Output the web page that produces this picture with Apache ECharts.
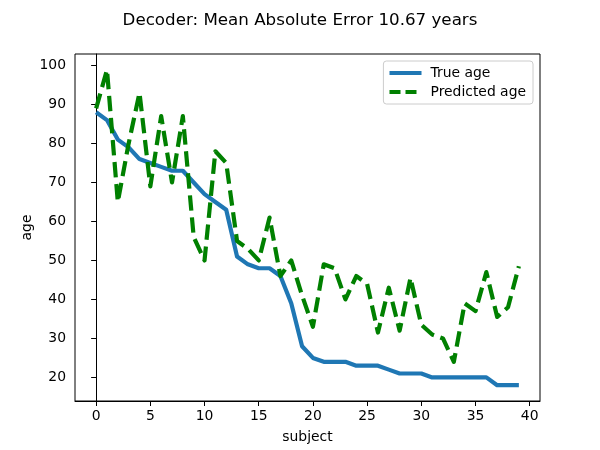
<!DOCTYPE html>
<html>
<head>
<meta charset="utf-8">
<script src="https://cdn.jsdelivr.net/npm/echarts@6/dist/echarts.min.js"></script>
<style>html,body{margin:0;padding:0;background:#fff}#c{width:600px;height:450px}</style>
</head>
<body>
<div id="c"></div>
<script>
const subjects = [0,1,2,3,4,5,6,7,8,9,10,11,12,13,14,15,16,17,18,19,20,21,22,23,24,25,26,27,28,29,30,31,32,33,34,35,36,37,38,39];
const trueAge = [88,86,81,79,76,75,74,73,73,70,67,65,63,51,49,48,48,46,39,28,25,24,24,24,23,23,23,22,21,21,21,20,20,20,20,20,20,18,18,18];
const predAge = [89,98.9,65,80,93,69,87,70,87,56,50,78,75,55,53,50,61,46,50,41,33,49,48,40,46,44,31.5,43,32,45.5,33.5,31,30,24,39,37,47,35.5,38,48.5];
const xTicks = [0,5,10,15,20,25,30,35,40];
const yTicks = [20,30,40,50,60,70,80,90,100];

const font = 'DejaVu Sans';
const chart = echarts.init(document.getElementById('c'), null, {renderer:'canvas'});
chart.setOption({
  animation: false,
  backgroundColor: '#fff',
  title: {
    text: 'Decoder: Mean Absolute Error 10.67 years',
    left: 'center', top: 7,
    textStyle: {fontFamily: font, fontSize: 16.7, fontWeight: 'normal', color: '#000'}
  },
  legend: {
    orient: 'vertical', right: 67, top: 61,
    padding: [5, 7, 5, 4], itemGap: 5, itemWidth: 32, itemHeight: 14,
    borderColor: '#cccccc', borderWidth: 1, borderRadius: 3,
    backgroundColor: 'rgba(255,255,255,0.8)',
    textStyle: {fontFamily: font, fontSize: 13.9, color: '#000', padding: [0,0,0,4]},
    data: [
      {name: 'True age', itemStyle: {opacity: 0}, lineStyle: {width: 4.2, color: '#1f77b4', type: 'solid'}},
      {name: 'Predicted age', itemStyle: {opacity: 0}, lineStyle: {width: 4.2, color: '#008000', type: [11, 5]}}
    ]
  },
  grid: {left: 75, right: 60, top: 54, bottom: 49, show: true, borderColor: '#000', borderWidth: 1, backgroundColor: 'transparent'},
  xAxis: {
    type: 'value', min: -1.95, max: 40.95,
    name: 'subject', nameLocation: 'middle', nameGap: 29, nameMoveOverlap: false,
    nameTextStyle: {fontFamily: font, fontSize: 13.9, color: '#000'},
    axisLine: {show: true, lineStyle: {color: '#000', width: 1}},
    axisTick: {show: true, length: 5, lineStyle: {color: '#000', width: 1}, customValues: xTicks},
    axisLabel: {fontFamily: font, fontSize: 13.9, color: '#000', margin: 8, customValues: xTicks},
    splitLine: {show: false}
  },
  yAxis: {
    type: 'value', min: 13.95, max: 102.95,
    name: 'age', nameLocation: 'middle', nameGap: 41, nameMoveOverlap: false,
    nameTextStyle: {fontFamily: font, fontSize: 13.9, color: '#000'},
    axisLine: {show: true, lineStyle: {color: '#000', width: 1}},
    axisTick: {show: true, length: 5, lineStyle: {color: '#000', width: 1}, customValues: yTicks},
    axisLabel: {fontFamily: font, fontSize: 13.9, color: '#000', margin: 9, customValues: yTicks},
    splitLine: {show: false}
  },
  series: [
    {
      name: 'True age', type: 'line', symbol: 'none', color: '#1f77b4',
      lineStyle: {width: 4.2, color: '#1f77b4', cap: 'butt', join: 'round'},
      data: subjects.map((s, i) => [s, trueAge[i]])
    },
    {
      name: 'Predicted age', type: 'line', symbol: 'none', color: '#008000',
      lineStyle: {width: 4.2, color: '#008000', type: [15.4, 6.7], cap: 'butt', join: 'round'},
      data: subjects.map((s, i) => [s, predAge[i]])
    }
  ]
});
</script>
</body>
</html>
